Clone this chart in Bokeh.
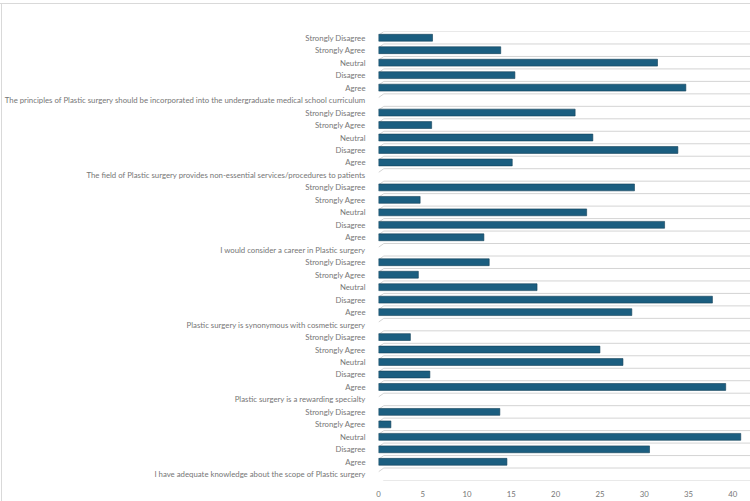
from bokeh.plotting import figure
from bokeh.models import ColumnDataSource, FixedTicker, Range1d, InlineStyleSheet
from bokeh.embed import file_html
from bokeh.resources import INLINE

# Survey statements, listed from the bottom of the chart upwards
questions = [
    "I have adequate knowledge about the scope of Plastic surgery",
    "Plastic surgery is a rewarding specialty",
    "Plastic surgery is synonymous with cosmetic surgery",
    "I would consider a career in Plastic surgery",
    "The field of Plastic surgery provides non-essential services/procedures to patients",
    "The principles of Plastic surgery should be incorporated into the undergraduate medical school curriculum",
]
responses = ["Agree", "Disagree", "Neutral", "Strongly Agree", "Strongly Disagree"]

# Percentage of respondents per response, one list per statement
knowledge = [14.5, 30.6, 40.9, 1.4, 13.7]
rewarding = [39.2, 5.8, 27.6, 25.0, 3.6]
cosmetic = [28.6, 37.7, 17.9, 4.5, 12.5]
career = [11.9, 32.3, 23.5, 4.7, 28.9]
non_essential = [15.1, 33.8, 24.2, 6.0, 22.2]
curriculum = [34.7, 15.4, 31.5, 13.8, 6.1]

series = [knowledge, rewarding, cosmetic, career, non_essential, curriculum]

# Each statement occupies one row for its heading plus one row per response
labels, ys, vals = [], [], []
row = 0
for q, vs in zip(questions, series):
    labels.append(q)
    row += 1
    for r, v in zip(responses, vs):
        labels.append(r)
        ys.append(row)
        vals.append(v)
        row += 1
n_rows = len(labels)

BAR = "#1b5e80"
TEXT = "#767676"
GRID = "#d4d4d4"
FONT = "Lato"

# Thin frame lines around the chart area, painted behind a transparent canvas
frame_css = InlineStyleSheet(css="""
:host {
  background:
    linear-gradient(#d9d9d9, #d9d9d9) 0 3px / 100% 1px no-repeat,
    linear-gradient(#d9d9d9, #d9d9d9) 1px 3px / 1px 100% no-repeat,
    #ffffff;
}
""")

p = figure(
    width=750, height=501,
    x_range=Range1d(0, 42), y_range=Range1d(-0.5, n_rows - 0.5),
    output_backend="svg", toolbar_location=None,
    min_border_left=378, min_border_right=0,
    min_border_top=31, min_border_bottom=21,
    stylesheets=[frame_css],
)
p.border_fill_color = None
p.background_fill_color = None
p.outline_line_color = None
p.xgrid.visible = False
p.ygrid.visible = False

# Row separators with a short slanted foot, giving the floor a depth look
bounds = [k + 0.5 for k in range(-1, n_rows)]
depth_x, depth_y = 0.6, 0.3
grid_src = ColumnDataSource(dict(
    x0=[depth_x] * len(bounds), x1=[42] * len(bounds),
    y0=bounds, y1=bounds,
))
foot_src = ColumnDataSource(dict(
    x0=[0] * len(bounds), x1=[depth_x] * len(bounds),
    y0=[b - depth_y for b in bounds], y1=bounds,
))
p.segment("x0", "y0", "x1", "y1", source=grid_src, line_color=GRID, line_width=1)
p.segment("x0", "y0", "x1", "y1", source=foot_src, line_color=GRID, line_width=1)

bars = ColumnDataSource(dict(y=ys, right=vals))
p.hbar(y="y", left=0, right="right", height=0.55, source=bars,
       fill_color=BAR, line_color="#123f57", line_width=0.6)

p.yaxis.ticker = FixedTicker(ticks=list(range(n_rows)))
p.yaxis.major_label_overrides = {i: t for i, t in enumerate(labels)}
p.xaxis.ticker = FixedTicker(ticks=list(range(0, 45, 5)))

for ax in (p.xaxis[0], p.yaxis[0]):
    ax.axis_line_color = None
    ax.major_tick_line_color = None
    ax.minor_tick_line_color = None
    ax.major_label_text_color = TEXT
    ax.major_label_text_font = FONT
    ax.major_label_text_font_size = "7.8px"
p.yaxis.major_label_standoff = 7
p.xaxis.major_label_standoff = 4

open("out.html", "w").write(file_html(p, INLINE))
